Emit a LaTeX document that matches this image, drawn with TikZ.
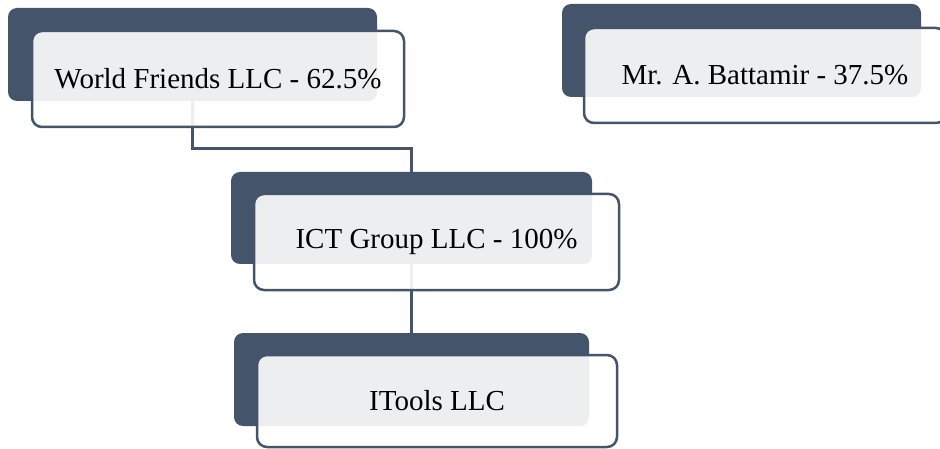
\documentclass[tikz,border=0pt]{standalone}
\usepackage{fontspec}
\setmainfont{Liberation Serif}
\definecolor{slate}{HTML}{44546A}
\begin{document}
\begin{tikzpicture}[x=1pt,y=-1pt,
 back/.style={draw=none,fill=slate,rounded corners=9pt,inner sep=0pt},
 front/.style={draw=slate,line width=2.5pt,fill=white,fill opacity=0.9,text opacity=1,draw opacity=1,rounded corners=10pt,inner sep=0pt,font=\fontsize{29}{34}\selectfont},
 link/.style={draw=slate,line width=3pt}]
\path[use as bounding box,clip] (0,0) rectangle (940,449);
% back plates
\node[back,minimum width=369pt,minimum height=93pt] (d1) at (192.5,54.5) {};
\node[back,minimum width=359pt,minimum height=93pt] (d2) at (741.5,50.5) {};
\node[back,minimum width=361pt,minimum height=92pt] (d3) at (411.5,218) {};
\node[back,minimum width=355pt,minimum height=93pt] (d4) at (411.5,379.5) {};
% connectors
\coordinate (j1) at (300,149);
\draw[link] (d1.south) |- (j1) -| (d3.north);
\draw[link] (d3.south) -- (d4.north);
% front boxes with text
\node[front,minimum width=372pt,minimum height=96pt] (f1) at (218,79) {World Friends LLC - 62.5\%};
\node[front,minimum width=362pt,minimum height=95pt] (f2) at (765,75.5) {Mr. A. Battamir - 37.5\%};
\node[front,minimum width=365pt,minimum height=96pt] (f3) at (436.5,242) {ICT Group LLC - 100\%};
\node[front,minimum width=360pt,minimum height=92pt] (f4) at (437,401) {ITools LLC};
\end{tikzpicture}
\end{document}
